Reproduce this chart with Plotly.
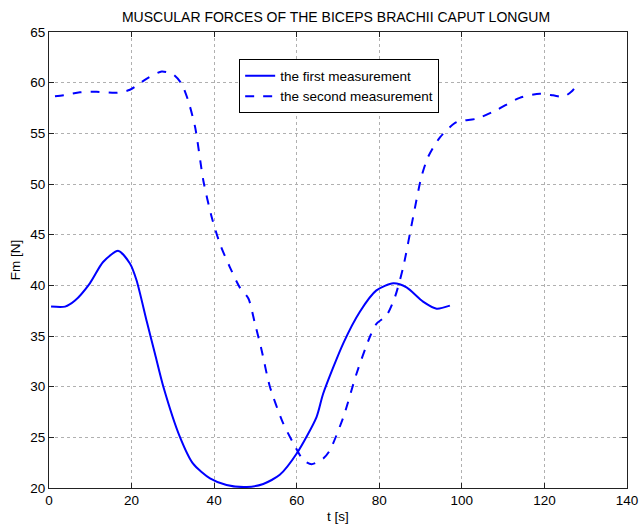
import plotly.graph_objects as go

t_first = [0.5, 3.9, 6.3, 9.9, 13.1, 16.8, 19.6, 21.2, 23.7, 25.7, 27.7, 31.7, 34.9,
           39.0, 43.0, 47.9, 51.9, 55.9, 60.0, 64.8, 66.4, 71.3, 75.3, 79.3, 83.4,
           86.6, 90.6, 93.9, 97.1]
f_first = [37.9, 37.9, 38.5, 40.2, 42.3, 43.4, 42.15, 40.5, 36.4, 33.2, 30.0, 25.05, 22.4,
           20.95, 20.3, 20.1, 20.4, 21.3, 23.4, 27.0, 29.3, 34.3, 37.4, 39.5, 40.2,
           39.8, 38.4, 37.7, 38.0]

t_second = [1.45, 3.5, 7.5, 11.5, 16.4, 19.6, 23.7, 27.3, 30.1, 32.1, 33.7, 35.4, 37.4,
            39.4, 41.4, 43.8, 46.2, 48.3, 49.9, 51.5, 53.5, 56.7, 59.6, 61.6, 63.6,
            66.4, 68.0, 71.3, 74.5, 77.7, 79.3, 81.8, 83.8, 85.8, 88.2, 90.2, 91.8,
            94.7, 98.7, 103.6, 108.4, 114.0, 118.9, 122.1, 124.5, 126.5, 128.2]
f_second = [58.65, 58.75, 59.05, 59.1, 59.0, 59.3, 60.4, 61.1, 60.8, 59.9, 58.25, 55.6, 50.3,
            46.75, 44.1, 41.8, 39.8, 38.7, 36.2, 33.6, 30.0, 26.4, 24.1, 22.75, 22.35,
            22.9, 23.7, 27.0, 31.3, 34.9, 36.2, 37.05, 38.85, 41.8, 46.75, 50.7, 52.65,
            54.6, 56.1, 56.45, 57.3, 58.5, 58.9, 58.75, 58.6, 59.1, 59.95]

x_ticks = [0, 20, 40, 60, 80, 100, 120, 140]
y_ticks = [20, 25, 30, 35, 40, 45, 50, 55, 60, 65]

blue = "#0000FF"
font_family = "Liberation Sans, Arial, sans-serif"
fs = 13.5

fig = go.Figure()
fig.add_trace(go.Scatter(x=t_first, y=f_first, mode="lines", name="the first measurement",
                         line=dict(color=blue, width=2, shape="spline", smoothing=0.7)))
fig.add_trace(go.Scatter(x=t_second, y=f_second, mode="lines", name="the second measurement",
                         line=dict(color=blue, width=2, dash="dash", shape="spline", smoothing=0.7)))

axis_common = dict(showline=True, linecolor="#222222", linewidth=1, mirror="ticks",
                   ticks="inside", ticklen=5, tickcolor="#222222", automargin=False,
                   showgrid=True, gridcolor="#b0b0b0", griddash="dot", gridwidth=1,
                   zeroline=False, tickfont=dict(size=fs, color="black", family=font_family))

fig.update_layout(
    width=640, height=530,
    margin=dict(l=49, r=13, t=32, b=42),
    paper_bgcolor="white", plot_bgcolor="white",
    title=dict(text="MUSCULAR FORCES OF THE BICEPS BRACHII CAPUT LONGUM",
               x=0.525, xanchor="center", y=0.968, yanchor="middle",
               font=dict(size=14, color="black", family=font_family)),
    xaxis=dict(range=[0, 140], tickvals=x_ticks,
               title=dict(text="t [s]", standoff=4, font=dict(size=fs, color="black", family=font_family)),
               **axis_common),
    yaxis=dict(range=[20, 65], tickvals=y_ticks,
               title=dict(text="Fm [N]", standoff=6, font=dict(size=fs, color="black", family=font_family)),
               **axis_common),
    legend=dict(x=0.329, y=0.94, xanchor="left", yanchor="top",
                bgcolor="white", bordercolor="black", borderwidth=1,
                font=dict(size=fs, color="black", family=font_family),
                tracegroupgap=0, itemwidth=30),
    showlegend=True,
)

fig.write_html("out.html")
